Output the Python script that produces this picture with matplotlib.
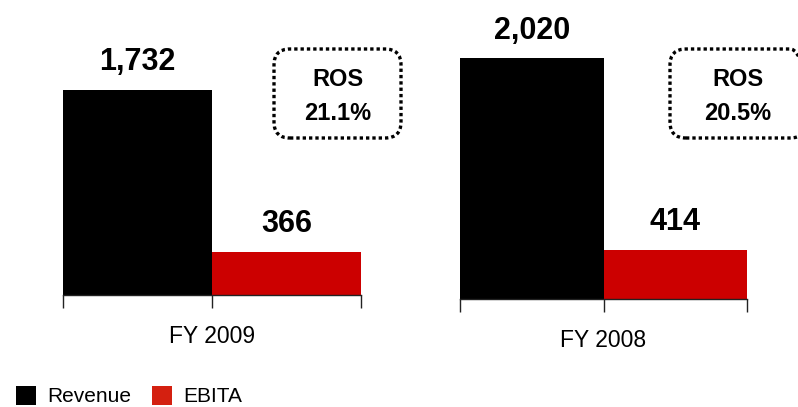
import matplotlib.pyplot as plt
from matplotlib.patches import FancyBboxPatch, Patch
import matplotlib.transforms as mtransforms

plt.rcParams['font.family'] = ['Liberation Sans Narrow', 'Liberation Sans', 'DejaVu Sans']

# data
periods = ["FY 2009", "FY 2008"]
series = ["Revenue", "EBITA"]
revenue = [1732, 2020]
ebita = [366, 414]
ros = ["21.1%", "20.5%"]
value_labels = [["1,732", "366"], ["2,020", "414"]]

bar_colors = ['black', '#CC0000']
legend_colors = ['black', '#D42010']

W, H = 798, 407
fig = plt.figure(figsize=(W / 100, H / 100), dpi=100)

# panel placement in pixels: left, bottom(from top), right, px per unit
panels = [(63, 295, 361, 0.1184), (460, 299, 747, 0.1193)]
boxes = [(272, 47, 403, 140), (668, 47, 808, 140)]

for i, (x0, ybot, x1, scale) in enumerate(panels):
    h = 260
    ax = fig.add_axes([x0 / W, (H - ybot) / H, (x1 - x0) / W, h / H])
    vals = [revenue[i], ebita[i]]
    ax.bar([0, 1], vals, width=1, align='edge', color=bar_colors, linewidth=0)
    ax.set_xlim(0, 2)
    ax.set_ylim(0, h / scale)
    for s in ['left', 'top', 'right']:
        ax.spines[s].set_visible(False)
    ax.spines['bottom'].set_linewidth(1.0)
    ax.spines['bottom'].set_color('#222222')
    ax.set_xticks([0, 1, 2])
    ax.set_xticklabels([])
    ax.tick_params(axis='x', direction='out', length=9.5, width=1.0, color='#222222')
    ax.set_yticks([])
    ax.patch.set_visible(False)

    for j, v in enumerate(vals):
        ax.annotate(value_labels[i][j], (j + 0.5, v), xytext=(0, 9),
                    textcoords='offset points', ha='center', va='bottom',
                    fontsize=22, fontweight='bold', color='black')

    trans = mtransforms.blended_transform_factory(ax.transData, ax.transAxes)
    ax.annotate(periods[i], (1, 0), xycoords=trans, xytext=(0, -30),
                textcoords='offset points', ha='center', va='center',
                fontsize=16.5, color='black')

    # dotted rounded ROS box, drawn in inches so the corners stay round
    bx0, by0, bx1, by1 = boxes[i]
    box = FancyBboxPatch(((bx0 + 2) / 100, (H - by1 + 2) / 100),
                         (bx1 - bx0 - 4) / 100, (by1 - by0 - 4) / 100,
                         boxstyle="round,pad=0,rounding_size=0.16",
                         transform=fig.dpi_scale_trans, fill=False,
                         edgecolor='black', linewidth=2.4, linestyle=(0, (1, 0.9)))
    fig.add_artist(box)
    cx = (bx0 + bx1) / 2 / W
    fig.text(cx, (H - 80) / H, "ROS", ha='center', va='center',
             fontsize=17, fontweight='bold')
    fig.text(cx, (H - 113) / H, ros[i], ha='center', va='center',
             fontsize=17, fontweight='bold')

handles = [Patch(facecolor=c, edgecolor='none') for c in legend_colors]
fig.legend(handles, series, loc='center left', bbox_to_anchor=(16 / W, 11 / H),
           ncol=2, frameon=False, fontsize=15, handlelength=0.95, handleheight=1.05,
           handletextpad=0.55, columnspacing=1.0, borderpad=0, borderaxespad=0)

fig.savefig('out.png', dpi=100)
